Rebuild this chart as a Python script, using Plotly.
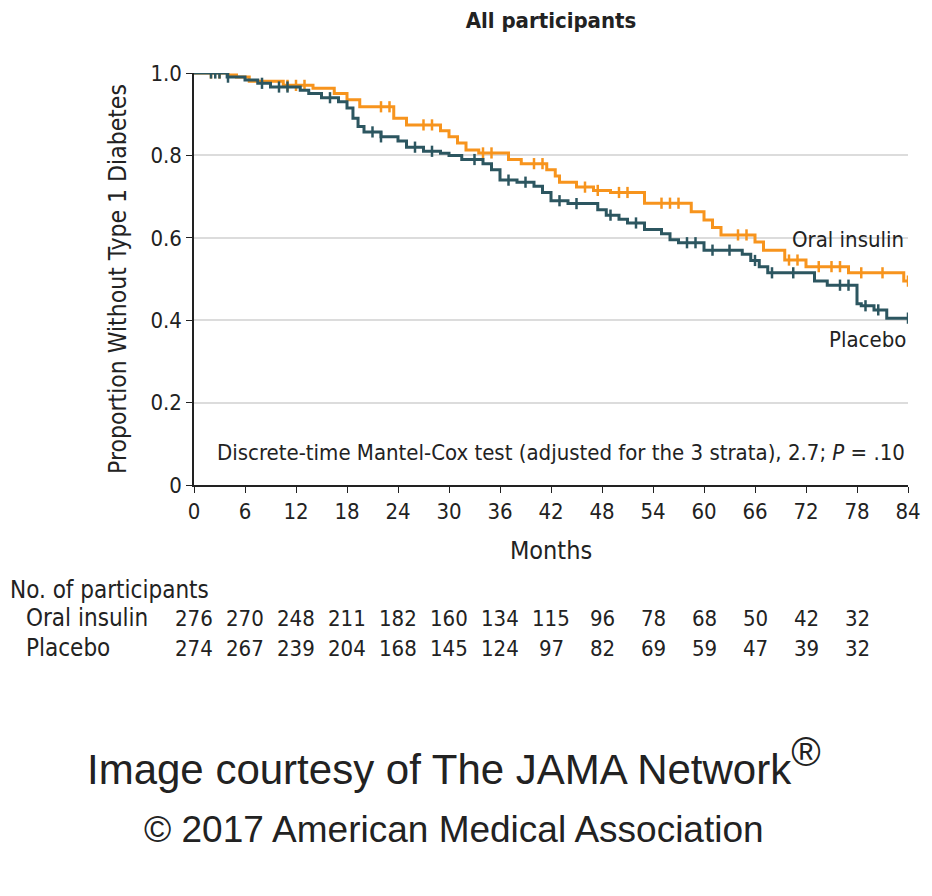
import numpy as np
import plotly.graph_objects as go

# step function data (months, proportion without T1D)
oral_t = [0, 4, 5, 6.5, 10.5, 14, 16.5, 18, 19.5, 23.5, 25, 29, 30, 31, 32, 33.5, 37, 38.5,
          41.5, 42.5, 43, 45, 47, 49, 53, 58.5, 60, 61, 62, 66, 67, 69.5, 72, 77, 83.5, 84]
oral_s = [1.0, 0.995, 0.99, 0.98, 0.97, 0.963, 0.95, 0.935, 0.918, 0.89, 0.874, 0.86, 0.845,
          0.83, 0.813, 0.806, 0.79, 0.78, 0.765, 0.75, 0.735, 0.723, 0.715, 0.71, 0.684, 0.663,
          0.643, 0.625, 0.607, 0.59, 0.57, 0.546, 0.53, 0.515, 0.495, 0.495]

plac_t = [0, 3.9, 6, 7.5, 9, 12.5, 13.5, 15, 17, 18, 18.7, 19.3, 20, 22, 24, 25, 27, 29, 30,
          31.5, 34, 35, 36, 38, 40, 41, 42, 44, 47.5, 48.5, 50, 51, 53, 55, 56, 57, 60, 64.5,
          65.5, 66.5, 67.5, 73, 74.5, 78, 78.5, 80, 81.5, 84]
plac_s = [1.0, 0.99, 0.983, 0.975, 0.966, 0.958, 0.95, 0.94, 0.93, 0.915, 0.89, 0.87, 0.857,
          0.845, 0.835, 0.82, 0.81, 0.805, 0.8, 0.79, 0.78, 0.765, 0.74, 0.735, 0.725, 0.71,
          0.69, 0.683, 0.668, 0.655, 0.645, 0.636, 0.62, 0.61, 0.595, 0.588, 0.57, 0.56, 0.545,
          0.53, 0.515, 0.495, 0.485, 0.44, 0.435, 0.425, 0.405, 0.405]

# censoring times
oral_cens = [2, 3, 11, 12, 13, 22, 23, 27, 28, 34, 35, 40, 41, 46, 47.5, 50, 51, 55, 56, 57,
             64, 65, 70, 71, 73.5, 75, 76, 78.5, 81, 84]
plac_cens = [2, 2.5, 3, 4, 8, 10, 11, 16, 21, 22, 26, 28, 33, 37, 39, 43, 45, 49, 52, 58, 59,
             61, 63, 66, 68, 70.5, 76, 77, 79, 80.5, 84]

# numbers at risk
risk_months = [0, 6, 12, 18, 24, 30, 36, 42, 48, 54, 60, 66, 72, 78]
oral_risk = [276, 270, 248, 211, 182, 160, 134, 115, 96, 78, 68, 50, 42, 32]
plac_risk = [274, 267, 239, 204, 168, 145, 124, 97, 82, 69, 59, 47, 39, 32]

ORANGE = "#F7941D"
TEAL = "#2C5660"
FONT = "Liberation Sans Narrow, DejaVu Sans Condensed, Roboto, sans-serif"
FOOT = "Liberation Sans, Arial, sans-serif"


def step_at(t_list, s_list, times):
    idx = np.searchsorted(np.array(t_list), np.array(times), side="right") - 1
    return [s_list[i] for i in idx]


fig = go.Figure()

for t, s, cens, col, name in [(oral_t, oral_s, oral_cens, ORANGE, "Oral insulin"),
                              (plac_t, plac_s, plac_cens, TEAL, "Placebo")]:
    fig.add_trace(go.Scatter(x=t, y=s, mode="lines", line_shape="hv",
                             line=dict(color=col, width=3), name=name, showlegend=False))
    fig.add_trace(go.Scatter(x=cens, y=step_at(t, s, cens), mode="markers",
                             marker=dict(symbol="line-ns", size=8,
                                         line=dict(color=col, width=2.5)),
                             showlegend=False, hoverinfo="skip"))

fig.update_xaxes(range=[0, 84], tickvals=list(range(0, 85, 6)), showgrid=False,
                 showline=True, linecolor="#222", linewidth=1.5, ticks="outside",
                 ticklen=6, tickcolor="#222", zeroline=False,
                 title=dict(text="Months", standoff=18,
                            font=dict(family=FONT, size=25, color="#222")),
                 tickfont=dict(family=FONT, size=22))
fig.update_yaxes(range=[0, 1.0], tickvals=[0, 0.2, 0.4, 0.6, 0.8, 1.0],
                 ticktext=["0", "0.2", "0.4", "0.6", "0.8", "1.0"],
                 showgrid=True, gridcolor="#DCDCDC", gridwidth=2,
                 showline=True, linecolor="#222", linewidth=1.5, ticks="outside",
                 ticklen=6, tickcolor="#222", zeroline=False,
                 title=dict(text="Proportion Without Type 1 Diabetes", standoff=17,
                            font=dict(family=FONT, size=24.5, color="#222")),
                 tickfont=dict(family=FONT, size=22))

ann = [
    dict(x=2.5, y=0.08, xref="x", yref="y", xanchor="left", yanchor="middle",
         showarrow=False,
         text="Discrete-time Mantel-Cox test (adjusted for the 3 strata), 2.7; <i>P</i> = .10"),
    dict(x=83.8, y=0.595, xref="x", yref="y", xanchor="right", yanchor="middle",
         showarrow=False, text="Oral insulin"),
    dict(x=84, y=0.352, xref="x", yref="y", xanchor="right", yanchor="middle",
         showarrow=False, text="Placebo"),
]

# risk table
ann.append(dict(x=-186 / 714, y=-0.255, xref="paper", yref="paper", xanchor="left",
                yanchor="middle", showarrow=False, text="No. of participants",
                font=dict(size=24)))
for label, vals, yy in [("Oral insulin", oral_risk, -0.323), ("Placebo", plac_risk, -0.396)]:
    ann.append(dict(x=-170 / 714, y=yy, xref="paper", yref="paper", xanchor="left",
                    yanchor="middle", showarrow=False, text=label, font=dict(size=24)))
    for m, v in zip(risk_months, vals):
        ann.append(dict(x=m, y=yy, xref="x", yref="paper", xanchor="center",
                        yanchor="middle", showarrow=False, text=str(v)))

# footer
ann.append(dict(x=(454 - 194) / 714, xref="paper", y=-0.672, yref="paper",
                xanchor="center", yanchor="middle", showarrow=False,
                text="Image courtesy of The JAMA Network<sup><span style='font-size:40px'>®</span></sup>",
                font=dict(family=FOOT, size=42)))
ann.append(dict(x=(454 - 194) / 714, xref="paper", y=-0.835, yref="paper",
                xanchor="center", yanchor="middle", showarrow=False,
                text="© 2017 American Medical Association",
                font=dict(family=FOOT, size=37)))

fig.update_layout(
    width=932, height=896,
    margin=dict(l=186, r=32, t=65, b=419),
    plot_bgcolor="white", paper_bgcolor="white",
    font=dict(family=FONT, size=22, color="#222"),
    title=dict(text="<b>All participants</b>", x=(551 - 8) / 932, xanchor="center",
               y=1 - 12 / 896, yanchor="middle", font=dict(size=22)),
    annotations=ann,
)

fig.write_html("out.html")
